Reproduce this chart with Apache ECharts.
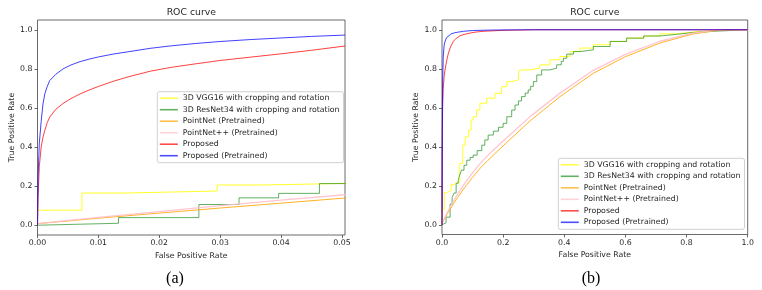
<!DOCTYPE html>
<html>
<head>
<meta charset="utf-8">
<script src="https://cdn.jsdelivr.net/npm/echarts@6/dist/echarts.min.js"></script>
<style>
html,body{margin:0;padding:0;background:#fff;}
#chart{width:762px;height:290px;}
</style>
</head>
<body>
<div id="chart"></div>
<script>
// ---- Data ----
const seriesNames = [
  '3D VGG16 with cropping and rotation',
  '3D ResNet34 with cropping and rotation',
  'PointNet (Pretrained)',
  'PointNet++ (Pretrained)',
  'Proposed',
  'Proposed (Pretrained)'
];
const xTicksA = [0, 0.01, 0.02, 0.03, 0.04, 0.05];
const xTicksB = [0, 0.2, 0.4, 0.6, 0.8, 1.0];
const yTicks = [0, 0.2, 0.4, 0.6, 0.8, 1.0];

// staircase curves: [fpr where step occurs, new tpr]
const vggRoc = [[0,0],[0,0.077],[0.0073,0.165],[0.015,0.17],[0.0222,0.175],[0.0295,0.206],[0.037,0.21],[0.0443,0.219],[0.058,0.314],[0.068,0.408],[0.076,0.451],[0.087,0.485],[0.095,0.537],[0.102,0.554],[0.113,0.588],[0.124,0.623],[0.146,0.649],[0.173,0.674],[0.195,0.708],[0.212,0.734],[0.228,0.743],[0.25,0.777],[0.255,0.794],[0.288,0.803],[0.32,0.82],[0.353,0.846],[0.386,0.863],[0.419,0.888],[0.451,0.906],[0.495,0.923],[0.55,0.94],[0.604,0.957],[0.66,0.968],[0.713,0.979],[0.77,0.988],[0.822,0.995],[0.876,1.0],[1,1]];
const resnetRoc = [[0,0],[0,0.01],[0.0133,0.039],[0.0265,0.106],[0.0331,0.14],[0.0396,0.163],[0.0463,0.213],[0.053,0.228],[0.058,0.255],[0.064,0.28],[0.072,0.305],[0.081,0.331],[0.092,0.345],[0.102,0.357],[0.115,0.38],[0.13,0.408],[0.14,0.435],[0.151,0.46],[0.168,0.48],[0.185,0.5],[0.2,0.52],[0.212,0.554],[0.228,0.588],[0.239,0.614],[0.25,0.635],[0.26,0.657],[0.272,0.675],[0.282,0.691],[0.29,0.71],[0.299,0.734],[0.31,0.768],[0.326,0.794],[0.353,0.803],[0.375,0.82],[0.39,0.838],[0.397,0.854],[0.408,0.875],[0.43,0.888],[0.451,0.897],[0.495,0.914],[0.55,0.94],[0.604,0.957],[0.66,0.968],[0.713,0.977],[0.77,0.986],[0.822,0.993],[0.9,1.0],[1,1]];
const pointnetRoc = [[0,0.008],[0.01,0.036],[0.02,0.062],[0.03,0.088],[0.04,0.113],[0.0505,0.139],[0.075,0.193],[0.1,0.243],[0.125,0.29],[0.15,0.33],[0.19,0.39],[0.255,0.485],[0.29,0.535],[0.386,0.657],[0.495,0.777],[0.6,0.862],[0.713,0.932],[0.82,0.978],[0.9,0.996],[0.93,1.0],[1,1]];
const pointnetPPRoc = [[0,0.008],[0.01,0.04],[0.02,0.07],[0.03,0.1],[0.04,0.128],[0.0505,0.156],[0.075,0.213],[0.1,0.266],[0.125,0.315],[0.15,0.356],[0.19,0.415],[0.255,0.508],[0.29,0.557],[0.386,0.675],[0.495,0.792],[0.6,0.874],[0.713,0.941],[0.82,0.983],[0.9,0.998],[0.93,1.0],[1,1]];
// panel (a) proposed curves (zoomed FPR range)
const proposedA = [[0,0],[0.0001,0.15],[0.0003,0.3],[0.0006,0.4],[0.0009,0.45],[0.0012,0.485],[0.0016,0.525],[0.002,0.553],[0.003,0.593],[0.0042,0.623],[0.0055,0.648],[0.007,0.672],[0.0085,0.692],[0.01,0.71],[0.0125,0.737],[0.015,0.76],[0.0185,0.788],[0.022,0.808],[0.026,0.826],[0.03,0.843],[0.035,0.86],[0.04,0.877],[0.045,0.895],[0.0505,0.917]];
const proposedPretrainedA = [[0,0],[0.0001,0.25],[0.0003,0.42],[0.0006,0.53],[0.0009,0.62],[0.0012,0.672],[0.0016,0.71],[0.002,0.74],[0.003,0.772],[0.0042,0.8],[0.0055,0.82],[0.007,0.837],[0.0085,0.85],[0.01,0.861],[0.0125,0.876],[0.015,0.888],[0.0185,0.905],[0.022,0.918],[0.026,0.93],[0.03,0.94],[0.035,0.95],[0.04,0.958],[0.045,0.966],[0.0505,0.973]];
// panel (b) proposed curves (full FPR range)
const proposedB = [[0,0],[0.001,0.4],[0.002,0.6],[0.004,0.7],[0.007,0.76],[0.01,0.794],[0.015,0.84],[0.021,0.88],[0.028,0.912],[0.037,0.94],[0.047,0.957],[0.059,0.969],[0.075,0.977],[0.092,0.983],[0.11,0.988],[0.135,0.992],[0.2,0.997],[0.3,1],[1,1]];
const proposedPretrainedB = [[0,0],[0.001,0.5],[0.002,0.72],[0.004,0.86],[0.007,0.92],[0.01,0.94],[0.015,0.96],[0.02,0.97],[0.03,0.979],[0.04,0.984],[0.05,0.987],[0.07,0.992],[0.1,0.996],[0.15,0.998],[0.2,0.999],[0.3,1],[1,1]];

const colors = ['#ffff00', '#1f8f1f', '#ffa500', '#ffc0cb', '#ff0000', '#0000ff'];
const opac = [0.85, 0.7, 0.85, 0.9, 0.75, 0.75];

const FONT = 'DejaVu Sans';
const FS = 7.8;
const TXT = '#262626';

function xAxisCfg(gridIndex, min, max, ticks, digits) {
  return {
    type: 'value', gridIndex, min, max,
    name: 'False Positive Rate', nameLocation: 'middle', nameGap: 14,
    nameTextStyle: {fontFamily: FONT, fontSize: FS, color: TXT},
    axisLine: {show: false, onZero: false},
    axisTick: {show: true, length: 3, customValues: ticks, lineStyle: {color: '#444', width: 0.8}},
    axisLabel: {customValues: ticks, formatter: v => Number(v).toFixed(digits), fontFamily: FONT, fontSize: FS, color: TXT, margin: 4},
    splitLine: {show: false}
  };
}
function yAxisCfg(gridIndex) {
  return {
    type: 'value', gridIndex, min: -0.05, max: 1.05,
    name: 'True Positive Rate', nameLocation: 'middle', nameGap: 22,
    nameTextStyle: {fontFamily: FONT, fontSize: FS, color: TXT},
    axisLine: {show: false, onZero: false},
    axisTick: {show: true, length: 3, customValues: yTicks, lineStyle: {color: '#444', width: 0.8}},
    axisLabel: {customValues: yTicks, formatter: v => Number(v).toFixed(1), fontFamily: FONT, fontSize: FS, color: TXT, margin: 5},
    splitLine: {show: false}
  };
}
function legendCfg(left, top) {
  return {
    data: seriesNames.map(n => ({name: n, icon: 'rect'})), orient: 'vertical', left, top,
    itemWidth: 18, itemHeight: 1.6, itemGap: 1.5,
    padding: [1.5, 4, 2, 2.5],
    backgroundColor: 'rgba(255,255,255,0.85)',
    borderColor: '#d0d0d0', borderWidth: 1, borderRadius: 2,
    itemStyle: {opacity: 0.7, borderWidth: 0},
    textStyle: {fontFamily: FONT, fontSize: FS, color: TXT, lineHeight: 10},
    selectedMode: false
  };
}

const panelData = [
  [vggRoc, resnetRoc, pointnetRoc, pointnetPPRoc, proposedA, proposedPretrainedA],
  [vggRoc, resnetRoc, pointnetRoc, pointnetPPRoc, proposedB, proposedPretrainedB]
];
const series = [];
panelData.forEach((arrs, p) => {
  arrs.forEach((d, i) => {
    series.push({
      name: seriesNames[i], type: 'line', xAxisIndex: p, yAxisIndex: p,
      data: d, symbol: 'none', showSymbol: false, clip: true,
      step: i < 2 ? 'end' : false,
      color: colors[i],
      itemStyle: {color: colors[i]},
      lineStyle: {color: colors[i], width: i === 3 ? 1.3 : 1, opacity: opac[i]},
      z: 2 + i
    });
  });
});

const chart = echarts.init(document.getElementById('chart'), null, {renderer: 'canvas'});
chart.setOption({
  animation: false,
  backgroundColor: '#fff',
  grid: [
    {left: 37.5, top: 20, width: 307.5, height: 215, show: true, borderColor: '#444', borderWidth: 0.8, backgroundColor: 'transparent'},
    {left: 442, top: 20, width: 305.7, height: 214.5, show: true, borderColor: '#444', borderWidth: 0.8, backgroundColor: 'transparent'}
  ],
  xAxis: [xAxisCfg(0, 0, 0.0505, xTicksA, 2), xAxisCfg(1, 0, 1, xTicksB, 1)],
  yAxis: [yAxisCfg(0), yAxisCfg(1)],
  legend: [legendCfg(157.3, 91.7), legendCfg(558.3, 158.3)],
  graphic: [
    {type: 'text', x: 191.3, y: 12.3, style: {text: 'ROC curve', fontFamily: FONT, fontSize: 9.3, fill: TXT, align: 'center', verticalAlign: 'middle'}},
    {type: 'text', x: 594.8, y: 12.3, style: {text: 'ROC curve', fontFamily: FONT, fontSize: 9.3, fill: TXT, align: 'center', verticalAlign: 'middle'}},
    {type: 'text', x: 175, y: 279, style: {text: '(a)', fontFamily: 'Liberation Serif', fontSize: 16, fill: '#000', align: 'center', verticalAlign: 'middle'}},
    {type: 'text', x: 591, y: 279, style: {text: '(b)', fontFamily: 'Liberation Serif', fontSize: 16, fill: '#000', align: 'center', verticalAlign: 'middle'}}
  ],
  series
});
</script>
</body>
</html>
